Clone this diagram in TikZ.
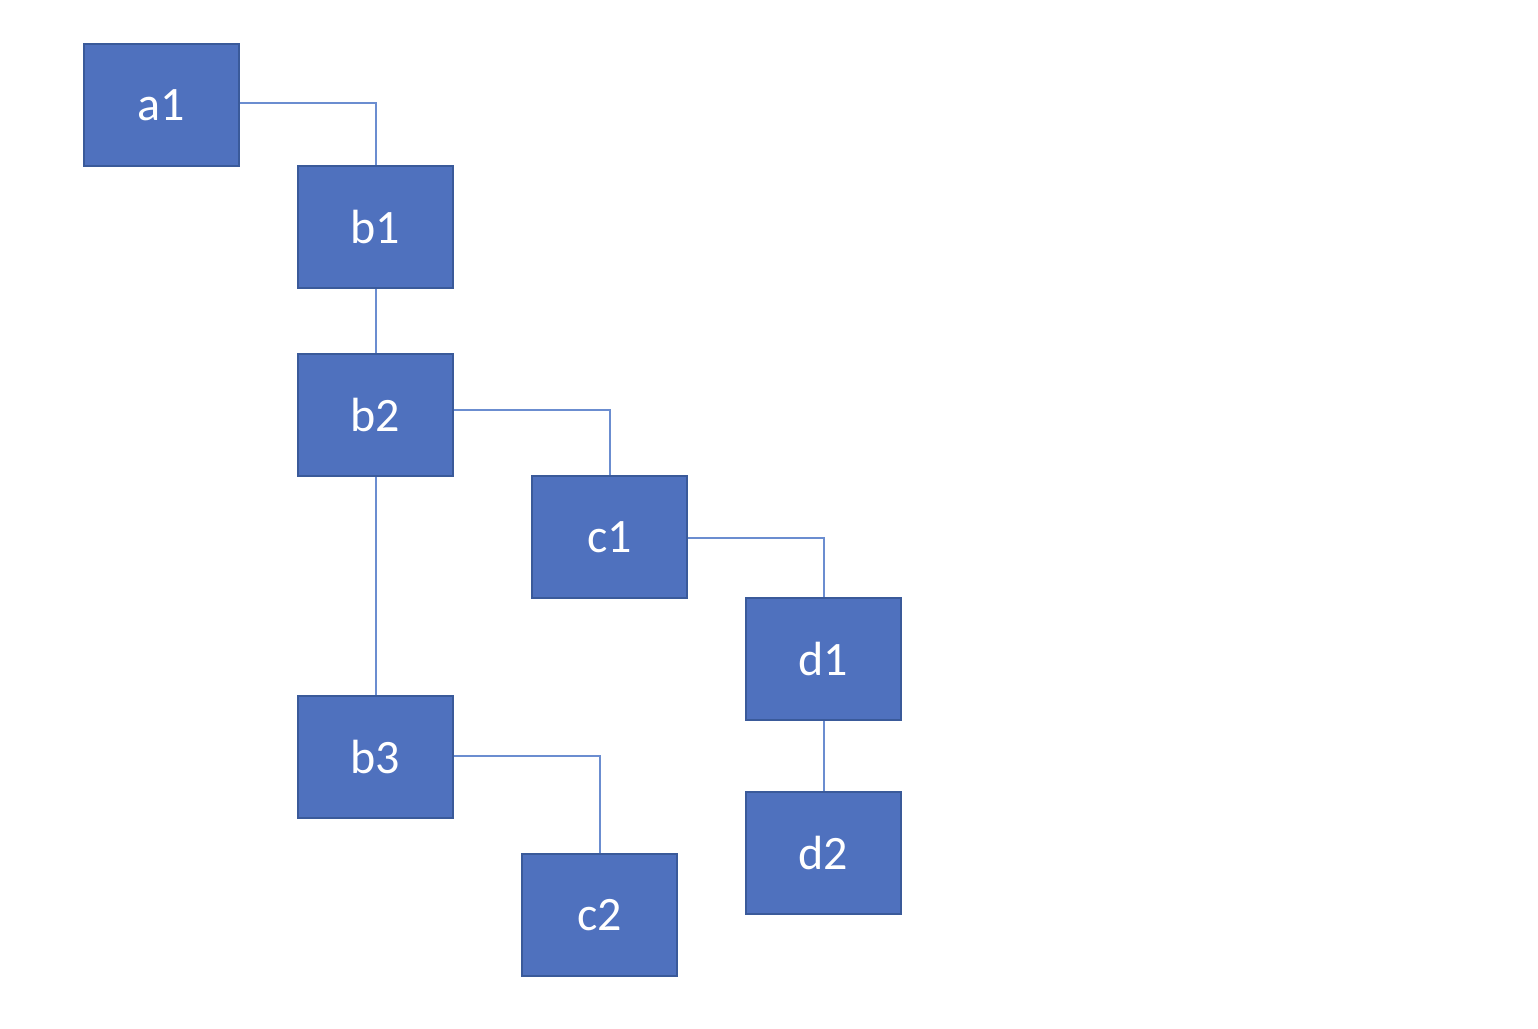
\documentclass[tikz,border=0pt]{standalone}
\usepackage{fontspec}
\setmainfont{Carlito}
\definecolor{boxfill}{HTML}{4F71BE}
\definecolor{boxline}{HTML}{3A5A9A}
\definecolor{conn}{HTML}{6B8DD0}
\begin{document}
\begin{tikzpicture}[x=1pt,y=-1pt,
  tbox/.style={draw=boxline,line width=1.5pt,fill=boxfill,minimum width=155pt,minimum height=122pt,inner sep=0pt,text=white,font=\fontsize{48}{48}\selectfont},
  link/.style={draw=conn,line width=2pt}]
\useasboundingbox (0,0) rectangle (1538,1028);
\node[tbox] (a1) at (161.5,105) {a1};
\node[tbox] (b1) at (375.5,227) {b1};
\node[tbox] (b2) at (375.5,415) {b2};
\node[tbox] (c1) at (609.5,537) {c1};
\node[tbox] (d1) at (823.5,659) {d1};
\node[tbox] (b3) at (375.5,757) {b3};
\node[tbox] (d2) at (823.5,853) {d2};
\node[tbox] (c2) at (599.5,915) {c2};
\draw[link] (a1.east |- 0,103) -| (b1.north);
\draw[link] (b1.south) -- (b2.north);
\draw[link] (b2.east |- 0,410) -| (c1.north);
\draw[link] (c1.east |- 0,538) -| (d1.north);
\draw[link] (b2.south) -- (b3.north);
\draw[link] (b3.east |- 0,756) -| (c2.north);
\draw[link] (d1.south) -- (d2.north);
\end{tikzpicture}
\end{document}
